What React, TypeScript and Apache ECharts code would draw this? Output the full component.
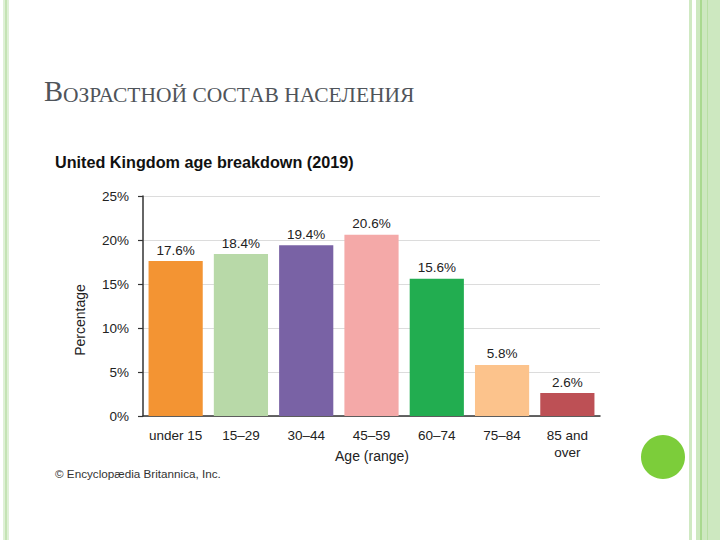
import React, { useEffect, useRef } from "react";
import * as echarts from "echarts";

const categories = ["under 15", "15–29", "30–44", "45–59", "60–74", "75–84", "85 and\nover"];
const values = [17.6, 18.4, 19.4, 20.6, 15.6, 5.8, 2.6];
const barColors = ["#f39433", "#b8d9a8", "#7962a5", "#f4a9a8", "#22ad50", "#fcc38c", "#bd5055"];
const yTicks = [0, 5, 10, 15, 20, 25];

export default function App() {
  const ref = useRef<HTMLDivElement>(null);
  useEffect(() => {
    if (!ref.current) return;
    const chart = echarts.init(ref.current, null, { renderer: "svg" });
    chart.setOption({
      animation: false,
      backgroundColor: "#ffffff",
      grid: { left: 143, right: 120, top: 196, bottom: 124, containLabel: false },
      xAxis: {
        type: "category",
        data: categories,
        axisLine: { show: true, lineStyle: { color: "#333", width: 1.5 } },
        axisTick: { show: false },
        axisLabel: {
          fontFamily: "Liberation Sans",
          fontSize: 13.5,
          color: "#222",
          margin: 11,
          lineHeight: 17,
          interval: 0,
          verticalAlign: "top",
        },
      },
      yAxis: {
        type: "value",
        min: yTicks[0],
        max: yTicks[yTicks.length - 1],
        interval: 5,
        axisLine: { show: true, lineStyle: { color: "#333", width: 1.5 } },
        axisTick: { show: true, length: 5, lineStyle: { color: "#333", width: 1.2 } },
        axisLabel: {
          formatter: "{value}%",
          fontFamily: "Liberation Sans",
          fontSize: 13.5,
          color: "#222",
          margin: 14,
        },
        splitLine: { show: true, lineStyle: { color: "#dcdcdc", width: 1 } },
      },
      series: [
        {
          type: "bar",
          barWidth: "83%",
          data: values.map((v, i) => ({ value: v, itemStyle: { color: barColors[i] } })),
          label: {
            show: true,
            position: "top",
            distance: 4,
            formatter: (p: any) => `${p.value}%`,
            fontFamily: "Liberation Sans",
            fontSize: 13.5,
            color: "#222",
          },
        },
      ],
      graphic: [
        // left stripes
        { type: "rect", shape: { x: 3, y: 0, width: 6, height: 540 }, style: { fill: "#dff0d6" } },
        { type: "rect", shape: { x: 5, y: 0, width: 2, height: 540 }, style: { fill: "#c4e3b4" } },
        // right stripes
        { type: "rect", shape: { x: 689, y: 0, width: 3, height: 540 }, style: { fill: "#cfe9c2" } },
        { type: "rect", shape: { x: 696, y: 0, width: 24, height: 540 }, style: { fill: "#cde8c0" } },
        { type: "rect", shape: { x: 700, y: 0, width: 2, height: 540 }, style: { fill: "#a9d98f" } },
        { type: "rect", shape: { x: 707, y: 0, width: 1, height: 540 }, style: { fill: "#b8dfa4" } },
        // green circle
        { type: "circle", shape: { cx: 663, cy: 457, r: 22 }, style: { fill: "#7ccd3a" } },
        // slide title
        {
          type: "text",
          left: 44,
          top: 77,
          style: {
            text: "{a|В}{b|ОЗРАСТНОЙ СОСТАВ НАСЕЛЕНИЯ}",
            rich: {
              a: { fontFamily: "Liberation Serif", fontSize: 28.5, fill: "#4f545a", verticalAlign: "bottom" },
              b: { fontFamily: "Liberation Serif", fontSize: 21.5, fill: "#4f545a", verticalAlign: "bottom" },
            },
          },
        },
        // chart title
        {
          type: "text",
          left: 55,
          top: 154,
          style: {
            text: "United Kingdom age breakdown (2019)",
            fontFamily: "Liberation Sans",
            fontWeight: "bold",
            fontSize: 16.2,
            fill: "#111",
          },
        },
        // y axis name
        {
          type: "text",
          x: 80,
          y: 320,
          rotation: Math.PI / 2,
          style: {
            text: "Percentage",
            fontFamily: "Liberation Sans",
            fontSize: 14,
            fill: "#222",
            align: "center",
            verticalAlign: "middle",
          },
        },
        // x axis name
        {
          type: "text",
          x: 372,
          y: 456,
          style: {
            text: "Age (range)",
            fontFamily: "Liberation Sans",
            fontSize: 14,
            fill: "#222",
            align: "center",
            verticalAlign: "middle",
          },
        },
        // copyright
        {
          type: "text",
          left: 55,
          top: 467,
          style: {
            text: "© Encyclopædia Britannica, Inc.",
            fontFamily: "Liberation Sans",
            fontSize: 11.7,
            fill: "#333",
          },
        },
      ],
    });
    return () => chart.dispose();
  }, []);
  return (
    <div
      ref={ref}
      style={{ position: "fixed", left: 0, top: 0, width: 720, height: 540, background: "#fff" }}
    />
  );
}
